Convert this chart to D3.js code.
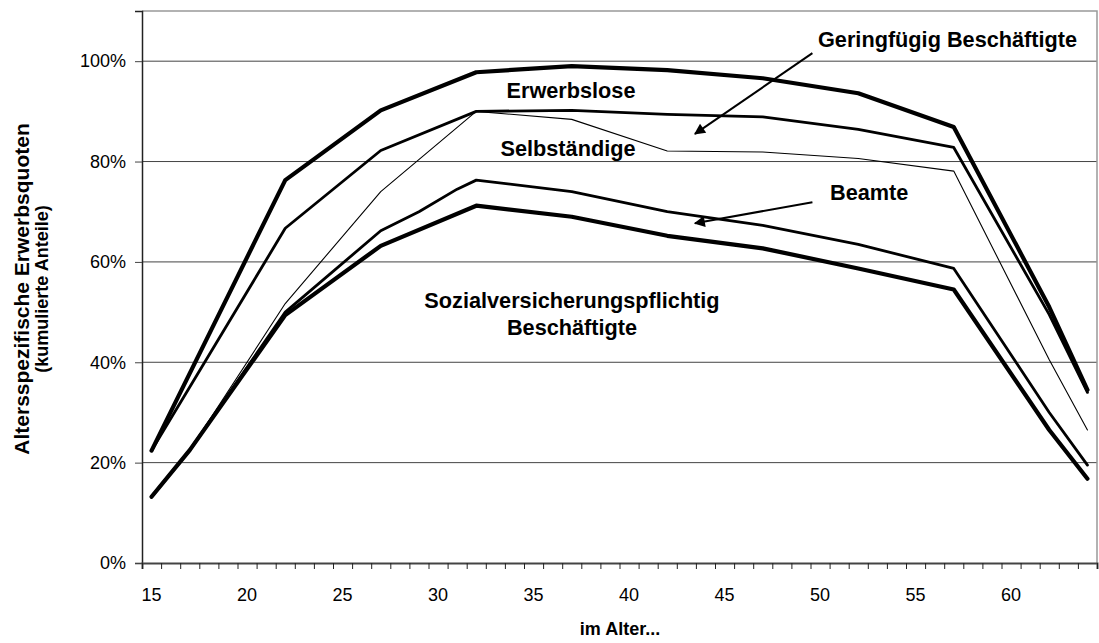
<!DOCTYPE html>
<html>
<head>
<meta charset="utf-8">
<script src="https://cdn.jsdelivr.net/npm/d3@7"></script>
<style>
  body { margin: 0; background: #fff; }
  svg { font-family: Arial, "Liberation Sans", sans-serif; }
</style>
</head>
<body>
<div id="chart"></div>
<script>
// Altersjahre auf der Kategorienachse (15 bis 64)
const ages = d3.range(15, 65);
const labelAges = [15, 20, 25, 30, 35, 40, 45, 50, 55, 60];
const yTicks = [0, 0.2, 0.4, 0.6, 0.8, 1.0];

// Stützstellen der Kurven (kumulierte Anteile)
const pointAges      = [15, 17, 22, 27, 29, 31, 32, 37, 42, 47, 52, 57, 62, 64];
const sozialversich  = [0.132, 0.225, 0.494, 0.632, null, null, 0.712, 0.690, 0.652, 0.627, 0.587, 0.545, 0.265, 0.168];
const beamte         = [0.132, 0.225, 0.500, 0.662, 0.700, 0.745, 0.763, 0.740, 0.700, 0.673, 0.635, 0.587, 0.300, 0.195];
const selbstaendige  = [0.132, 0.225, 0.517, 0.740, null, null, 0.900, 0.884, 0.821, 0.819, 0.806, 0.781, 0.405, 0.265];
const erwerbslose    = [0.224, null, 0.667, 0.822, null, null, 0.900, 0.902, 0.894, 0.889, 0.864, 0.828, 0.495, 0.340];
const geringfuegig   = [0.224, null, 0.763, 0.902, null, null, 0.978, 0.990, 0.982, 0.966, 0.936, 0.869, 0.510, 0.345];

const series = [
  {values: sozialversich, width: 4.2},
  {values: beamte, width: 2.8},
  {values: selbstaendige, width: 1.1},
  {values: erwerbslose, width: 2.8},
  {values: geringfuegig, width: 4.2}
];

const W = 1099, H = 643;
const margin = {left: 142, right: 2, top: 11, bottom: 80};

const svg = d3.select("#chart").append("svg")
  .attr("width", W)
  .attr("height", H);

const x = d3.scaleBand().domain(ages).range([margin.left, W - margin.right]).padding(0);
const y = d3.scaleLinear().domain([0, 1.1]).range([H - margin.bottom, margin.top]);
const bw = x.bandwidth();
const xc = a => x(Math.floor(a)) + bw / 2 + (a - Math.floor(a)) * bw;

// gridlines
svg.append("g")
  .selectAll("line")
  .data(yTicks.slice(1))
  .enter().append("line")
  .attr("x1", margin.left).attr("x2", W - margin.right)
  .attr("y1", d => y(d)).attr("y2", d => y(d))
  .attr("stroke", "#444").attr("stroke-width", 1);

// frame top/right
svg.append("path")
  .attr("d", `M${margin.left},${margin.top}H${W - margin.right}V${H - margin.bottom}`)
  .attr("fill", "none").attr("stroke", "#999").attr("stroke-width", 1.5);

// y axis
const yAxis = svg.append("g")
  .attr("transform", `translate(${margin.left},0)`)
  .call(d3.axisLeft(y).tickValues(yTicks).tickFormat(d3.format(".0%")).tickSize(7).tickPadding(9));
yAxis.select(".domain").attr("stroke", "#222").attr("stroke-width", 1.5);
yAxis.selectAll(".tick line").attr("stroke", "#444");
yAxis.selectAll("text").attr("font-size", 18).attr("fill", "#000");

// x axis: tick marks on category boundaries
const xEdge = d3.scaleLinear().domain([0, ages.length]).range([margin.left, W - margin.right]);
const xAxisTicks = svg.append("g")
  .attr("transform", `translate(0,${H - margin.bottom})`)
  .call(d3.axisBottom(xEdge).tickValues(d3.range(0, ages.length + 1)).tickSize(6).tickFormat(""));
xAxisTicks.select(".domain").attr("stroke", "#444").attr("stroke-width", 2);
xAxisTicks.selectAll(".tick line").attr("stroke", "#222");

const xAxisLabels = svg.append("g")
  .attr("transform", `translate(0,${H - margin.bottom})`)
  .call(d3.axisBottom(x).tickValues(labelAges).tickSize(0).tickPadding(25));
xAxisLabels.select(".domain").remove();
xAxisLabels.selectAll("text").attr("font-size", 18).attr("fill", "#000");

// axis titles
svg.append("text")
  .attr("transform", "translate(29,289) rotate(-90)")
  .attr("text-anchor", "middle")
  .attr("font-size", 21).attr("font-weight", "bold")
  .text("Altersspezifische Erwerbsquoten");
svg.append("text")
  .attr("transform", "translate(48,289) rotate(-90)")
  .attr("text-anchor", "middle")
  .attr("font-size", 18).attr("font-weight", "bold")
  .text("(kumulierte Anteile)");
svg.append("text")
  .attr("x", 620).attr("y", 635)
  .attr("text-anchor", "middle")
  .attr("font-size", 18).attr("font-weight", "bold")
  .text("im Alter...");

// lines
const line = d3.line()
  .x(d => xc(d.age))
  .y(d => y(d.v));

series.forEach(s => {
  const pts = pointAges.map((a, i) => ({age: a, v: s.values[i]})).filter(d => d.v !== null);
  svg.append("path")
    .datum(pts)
    .attr("d", line)
    .attr("fill", "none")
    .attr("stroke", "#000")
    .attr("stroke-width", s.width)
    .attr("stroke-linejoin", "round")
    .attr("stroke-linecap", "round");
});

// annotations
svg.append("defs").append("marker")
  .attr("id", "arrow")
  .attr("viewBox", "0 0 10 10")
  .attr("refX", 9).attr("refY", 5)
  .attr("markerWidth", 8).attr("markerHeight", 5.5)
  .attr("markerUnits", "strokeWidth")
  .attr("orient", "auto")
  .append("path").attr("d", "M0,0L10,5L0,10z").attr("fill", "#000");

const arrows = [
  {from: [49.6, 1.016], to: [43.45, 0.855]},
  {from: [49.6, 0.719], to: [43.45, 0.677]}
];
arrows.forEach(a => {
  svg.append("line")
    .attr("x1", xc(a.from[0])).attr("y1", y(a.from[1]))
    .attr("x2", xc(a.to[0])).attr("y2", y(a.to[1]))
    .attr("stroke", "#000").attr("stroke-width", 2)
    .attr("marker-end", "url(#arrow)");
});

const labels = [
  {text: "Geringfügig Beschäftigte", x: 818, y: 47, anchor: "start"},
  {text: "Erwerbslose", x: 571, y: 98, anchor: "middle"},
  {text: "Selbständige", x: 568, y: 156, anchor: "middle"},
  {text: "Beamte", x: 830, y: 200, anchor: "start"},
  {text: "Sozialversicherungspflichtig", x: 572, y: 308, anchor: "middle"},
  {text: "Beschäftigte", x: 572, y: 335, anchor: "middle"}
];
svg.append("g").selectAll("text")
  .data(labels)
  .enter().append("text")
  .attr("x", d => d.x).attr("y", d => d.y)
  .attr("text-anchor", d => d.anchor)
  .attr("font-size", 21.7).attr("font-weight", "bold")
  .text(d => d.text);
</script>
</body>
</html>
